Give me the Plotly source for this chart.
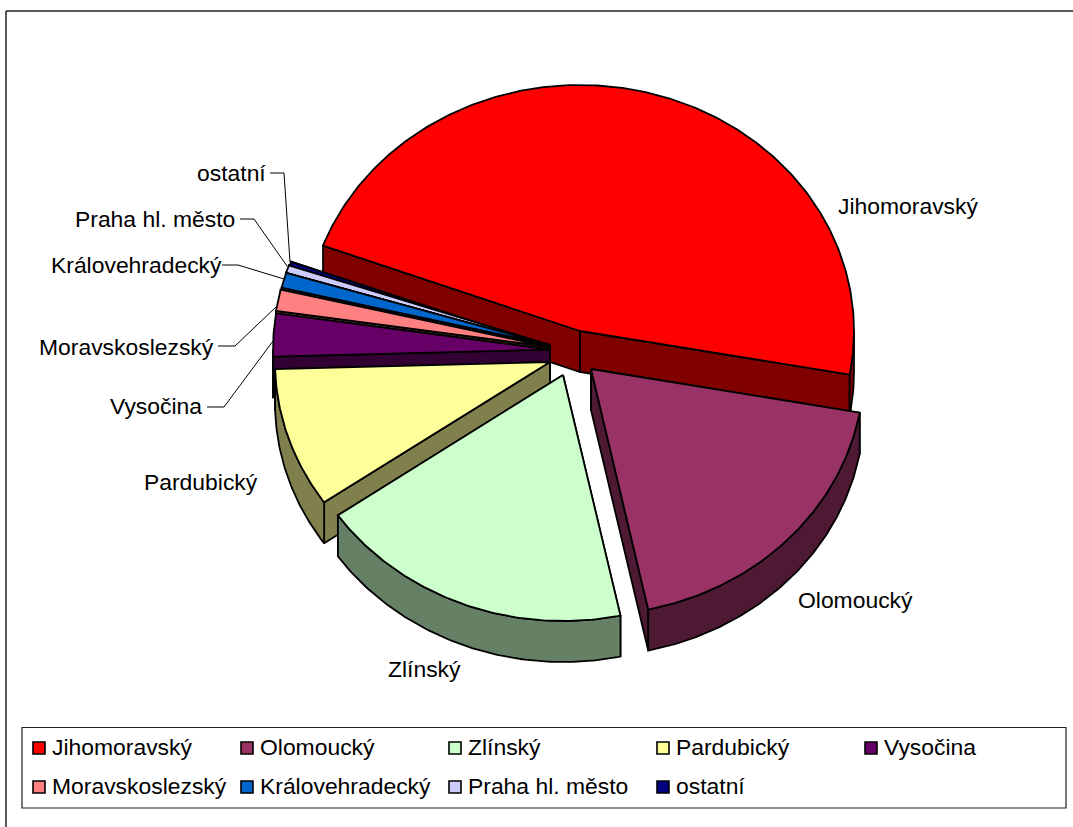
import math
import plotly.graph_objects as go

# ---- data (percent share) ----
categories = ["Jihomoravský", "Olomoucký", "Zlínský", "Pardubický", "Vysočina",
              "Moravskoslezský", "Královehradecký", "Praha hl. město", "ostatní"]
values = [47.2, 18.8, 18.7, 9.2, 2.8, 1.4, 1.0, 0.5, 0.4]

# ---- styles ----
top_colors = ["#FF0000", "#993366", "#CCFFCC", "#FFFF99", "#660066",
              "#FF8080", "#0066CC", "#CCCCFF", "#000080"]
side_colors = ["#800000", "#4D1933", "#668066", "#80804D", "#330033",
               "#804040", "#003366", "#666680", "#000040"]

# ---- layout of the fake 3-D pie (pixels) ----
W, H = 1073, 827
FIRST_ANGLE = 290.3
RY, DEPTH = 246.0, 41.0
radius_x = [274, 273, 274, 275, 277, 277, 276, 276, 276]
apex_x = [580, 591, 563, 550, 550, 550, 550, 550, 550]
apex_y = [331, 369, 375, 362, 349.5, 347, 345, 345, 347]
draw_order = [0, 8, 7, 6, 5, 4, 3, 1, 2]

label_x = [836, 796, 386, 142, 108, 37, 49, 73, 195]
label_y = [206, 600, 669, 482, 406, 347, 265, 219, 173]
leader_x = [None, None, None, None, [207, 224, 273], [218, 235, 277], [222, 238, 284], [240, 254, 287], [270, 284, 290]]
leader_y = [None, None, None, None, [407, 407, 341], [346, 346, 306], [265, 265, 279], [219, 219, 266], [173, 173, 262]]

legend_col_x = [39, 247, 455, 663, 871]
legend_row_y = [748, 787]
LEGEND_PER_ROW = 5
LINE = dict(color="black", width=1.8)
FONT = "Liberation Sans, Arial, sans-serif"
FS = 22.9


def rim(cx, cy, rx, a0, a1, dz=0.0, n=None):
    n = n or max(2, int(abs(a1 - a0) * 1.5) + 2)
    xs, ys = [], []
    for i in range(n):
        t = math.radians(a0 + (a1 - a0) * i / (n - 1))
        xs.append(cx + rx * math.sin(t))
        ys.append(cy - RY * math.cos(t) + dz)
    return xs, ys


fig = go.Figure()


def poly(xs, ys, color):
    fig.add_trace(go.Scatter(x=xs + xs[:1], y=ys + ys[:1], mode="lines", fill="toself",
                             fillcolor=color, line=LINE, hoverinfo="skip", showlegend=False))


total = sum(values)
starts, a = [], FIRST_ANGLE
for v in values:
    starts.append(a)
    a += v / total * 360.0

for i in draw_order:
    cx, cy, r = apex_x[i], apex_y[i], radius_x[i]
    a0 = starts[i]
    a1 = a0 + values[i] / total * 360.0
    # cut faces, the one reaching lower on the page drawn last
    faces = sorted((a0, a1), key=lambda ang: -math.cos(math.radians(ang)))
    for ang in faces:
        rx, ry = rim(cx, cy, r, ang, ang, n=2)
        poly([cx, rx[0], rx[0], cx], [cy, ry[0], ry[0] + DEPTH, cy + DEPTH], side_colors[i])
    # outer wall: only the part of the rim facing the viewer
    for k in (0, 360):
        lo, hi = max(a0 - k, 90.0), min(a1 - k, 270.0)
        if hi > lo:
            tx, ty = rim(cx, cy, r, lo, hi)
            bx, by = rim(cx, cy, r, hi, lo, DEPTH)
            poly(tx + bx, ty + by, side_colors[i])
    # top surface
    tx, ty = rim(cx, cy, r, a0, a1)
    poly([cx] + tx, [cy] + ty, top_colors[i])

annotations = []
for i, name in enumerate(categories):
    annotations.append(dict(x=label_x[i], y=label_y[i], text=name, showarrow=False,
                            xanchor="left", yanchor="middle", xref="x", yref="y",
                            font=dict(family=FONT, size=FS, color="black")))
    if leader_x[i]:
        fig.add_trace(go.Scatter(x=leader_x[i], y=leader_y[i], mode="lines",
                                 line=dict(color="black", width=1), hoverinfo="skip", showlegend=False))
    # hand-placed legend entry, five per row as in the reference
    col, row = i % LEGEND_PER_ROW, i // LEGEND_PER_ROW
    fig.add_trace(go.Scatter(x=[legend_col_x[col]], y=[legend_row_y[row]], mode="markers",
                             marker=dict(symbol="square", size=12, color=top_colors[i],
                                         line=dict(color="black", width=1.6)),
                             hoverinfo="skip", showlegend=False))
    annotations.append(dict(x=legend_col_x[col] + 11, y=legend_row_y[row] - 1, text=name, showarrow=False,
                            xanchor="left", yanchor="middle", xref="x", yref="y",
                            font=dict(family=FONT, size=FS, color="black")))

shapes = [
    dict(type="line", x0=6, x1=6, y0=11, y1=H, xref="x", yref="y", line=dict(color="black", width=1.3)),
    dict(type="line", x0=6, x1=W, y0=11, y1=11, xref="x", yref="y", line=dict(color="#222222", width=1.3)),
    dict(type="rect", x0=22, x1=1066, y0=727.5, y1=808, xref="x", yref="y",
         line=dict(color="#222222", width=1.2), fillcolor="white", layer="below"),
]

fig.update_layout(
    width=W, height=H, margin=dict(l=0, r=0, t=0, b=0),
    paper_bgcolor="white", plot_bgcolor="white", showlegend=False,
    xaxis=dict(range=[0, W], visible=False, fixedrange=True),
    yaxis=dict(range=[H, 0], visible=False, fixedrange=True),
    annotations=annotations, shapes=shapes,
)
fig.write_html("out.html", config=dict(displayModeBar=False),
               post_script="document.body.style.margin='0';document.documentElement.style.overflow='hidden';")
